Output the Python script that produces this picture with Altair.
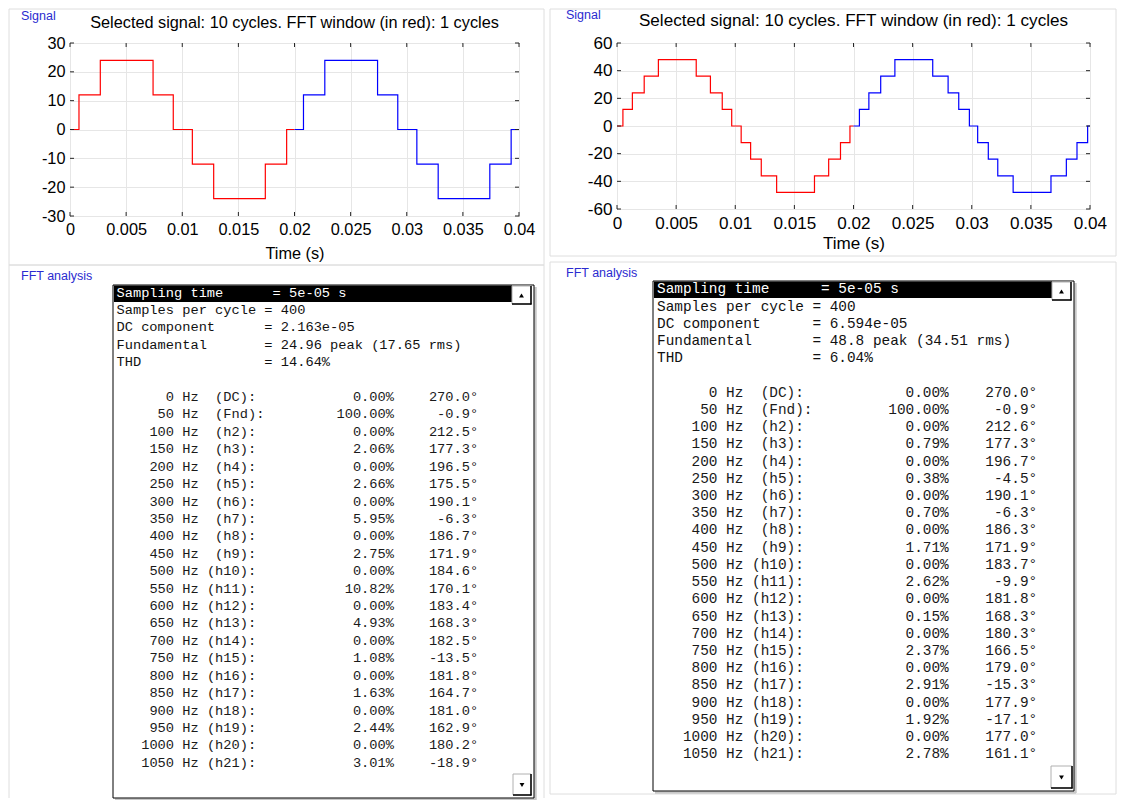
import altair as alt
import pandas as pd

# ------------------------------------------------------------------
# Data
# ------------------------------------------------------------------
window_end = 0.02          # FFT window (in red): first cycle
x_ticks = [0, 0.005, 0.01, 0.015, 0.02, 0.025, 0.03, 0.035, 0.04]

# left signal: 3-level staircase (breakpoints, step-after)
left_time = [0.0, 0.0008, 0.0027, 0.0074, 0.0092, 0.0109, 0.0128, 0.0174, 0.0193, 0.0200,
             0.0208, 0.0227, 0.0274, 0.0292, 0.0309, 0.0328, 0.0374, 0.0393, 0.0400]
left_level = [0, 12, 24, 12, 0, -12, -24, -12, 0, 0,
              12, 24, 12, 0, -12, -24, -12, 0, 0]
left_yticks = [-30, -20, -10, 0, 10, 20, 30]

# right signal: 5-level staircase
right_time = [0.0, 0.0005, 0.0013, 0.0023, 0.0035, 0.0067, 0.0079, 0.0089, 0.0097,
              0.0105, 0.0113, 0.0122, 0.0135, 0.0167, 0.0179, 0.0189, 0.0197, 0.0200,
              0.0205, 0.0213, 0.0223, 0.0235, 0.0267, 0.0280, 0.0289, 0.0298,
              0.0305, 0.0314, 0.0322, 0.0335, 0.0367, 0.0380, 0.0389, 0.0398, 0.0400]
right_level = [0, 12, 24, 36, 48, 36, 24, 12, 0,
               -12, -24, -36, -48, -36, -24, -12, 0, 0,
               12, 24, 36, 48, 36, 24, 12, 0,
               -12, -24, -36, -48, -36, -24, -12, 0, 0]
right_yticks = [-60, -40, -20, 0, 20, 40, 60]

signal_title = "Selected signal: 10 cycles. FFT window (in red): 1 cycles"

# FFT listing
left_header = ["Sampling time      = 5e-05 s",
               "Samples per cycle = 400",
               "DC component      = 2.163e-05",
               "Fundamental       = 24.96 peak (17.65 rms)",
               "THD               = 14.64%"]
right_header = ["Sampling time      = 5e-05 s",
                "Samples per cycle = 400",
                "DC component      = 6.594e-05",
                "Fundamental       = 48.8 peak (34.51 rms)",
                "THD               = 6.04%"]

freqs = [0, 50, 100, 150, 200, 250, 300, 350, 400, 450, 500,
         550, 600, 650, 700, 750, 800, 850, 900, 950, 1000, 1050]
harm_labels = ["(DC)", "(Fnd)", "(h2)", "(h3)", "(h4)", "(h5)", "(h6)", "(h7)", "(h8)",
               "(h9)", "(h10)", "(h11)", "(h12)", "(h13)", "(h14)", "(h15)", "(h16)",
               "(h17)", "(h18)", "(h19)", "(h20)", "(h21)"]
left_mag = [0.00, 100.00, 0.00, 2.06, 0.00, 2.66, 0.00, 5.95, 0.00, 2.75, 0.00,
            10.82, 0.00, 4.93, 0.00, 1.08, 0.00, 1.63, 0.00, 2.44, 0.00, 3.01]
left_phase = [270.0, -0.9, 212.5, 177.3, 196.5, 175.5, 190.1, -6.3, 186.7, 171.9, 184.6,
              170.1, 183.4, 168.3, 182.5, -13.5, 181.8, 164.7, 181.0, 162.9, 180.2, -18.9]
right_mag = [0.00, 100.00, 0.00, 0.79, 0.00, 0.38, 0.00, 0.70, 0.00, 1.71, 0.00,
             2.62, 0.00, 0.15, 0.00, 2.37, 0.00, 2.91, 0.00, 1.92, 0.00, 2.78]
right_phase = [270.0, -0.9, 212.6, 177.3, 196.7, -4.5, 190.1, -6.3, 186.3, 171.9, 183.7,
               -9.9, 181.8, 168.3, 180.3, 166.5, 179.0, -15.3, 177.9, -17.1, 177.0, 161.1]

# ------------------------------------------------------------------
# Styling
# ------------------------------------------------------------------
FONT = "Liberation Sans"
MONO = "Liberation Mono"
LABEL_BLUE = "#2b2bd0"
GRID = "#e6e6e6"
PANEL = "#dedede"
FRAME = "#262626"
NB = "\u00a0"

one = pd.DataFrame({"k": [0]})


def vrect(x1, x2, y1, y2, **kw):
    return alt.Chart(one).mark_rect(**kw).encode(
        x=alt.value(x1), x2=alt.value(x2), y=alt.value(y1), y2=alt.value(y2))


def vrule(x1, x2, y1, y2, **kw):
    return alt.Chart(one).mark_rule(**kw).encode(
        x=alt.value(x1), x2=alt.value(x2), y=alt.value(y1), y2=alt.value(y2))


def vtext(x, y, text, **kw):
    return alt.Chart(one).mark_text(text=text, **kw).encode(x=alt.value(x), y=alt.value(y))


def signal_chart(times, levels, yticks, w, h, fs, panel, sig_xy, title_y, title_pad):
    rows = []
    for t, v in zip(times, levels):
        if t <= window_end:
            rows.append({"t": t, "v": v, "part": "window"})
        if t >= window_end:
            rows.append({"t": t, "v": v, "part": "rest"})
    df = pd.DataFrame(rows)

    xenc = alt.X("t:Q", scale=alt.Scale(domain=[0, 0.04], nice=False, zero=False),
                 axis=alt.Axis(values=x_ticks, labelExpr="datum.value + ''",
                               title="Time (s)", titleFontSize=fs, titleFontWeight="normal",
                               titleColor="black", titlePadding=title_pad, titleFont=FONT,
                               labelFontSize=fs, labelColor="black", labelFont=FONT,
                               labelPadding=5, labelFlush=False, labelOverlap=False,
                               ticks=False, domain=False, grid=True, gridColor=GRID))
    yenc = alt.Y("v:Q", scale=alt.Scale(domain=[yticks[0], yticks[-1]], nice=False, zero=False),
                 axis=alt.Axis(values=yticks, labelExpr="datum.value + ''", title=None,
                               labelFontSize=fs, labelColor="black", labelFont=FONT,
                               labelPadding=5, labelFlush=False, labelOverlap=False,
                               ticks=False, domain=False, grid=True, gridColor=GRID))

    border = vrect(panel[0], panel[1], panel[2], panel[3],
                   fillOpacity=0, stroke=PANEL, strokeWidth=1)
    title = vtext(w / 2, title_y, signal_title, font=FONT, fontSize=fs,
                  color="black", align="center", baseline="middle")
    sig = vtext(sig_xy[0], sig_xy[1], "Signal", font=FONT, fontSize=12.5,
                color=LABEL_BLUE, align="left", baseline="middle")

    line = alt.Chart(df).mark_line(interpolate="step-after", strokeWidth=1.2).encode(
        x=xenc, y=yenc,
        color=alt.Color("part:N", scale=alt.Scale(domain=["window", "rest"],
                                                  range=["#ff0000", "#0000ff"]),
                        legend=None))

    xt = pd.DataFrame({"t": x_ticks})
    yt = pd.DataFrame({"v": yticks})
    tick_b = alt.Chart(xt).mark_rule(color=FRAME).encode(x=xenc, y=alt.value(h), y2=alt.value(h - 4))
    tick_t = alt.Chart(xt).mark_rule(color=FRAME).encode(x=xenc, y=alt.value(0), y2=alt.value(4))
    tick_l = alt.Chart(yt).mark_rule(color=FRAME).encode(y=yenc, x=alt.value(0), x2=alt.value(4))
    tick_r = alt.Chart(yt).mark_rule(color=FRAME).encode(y=yenc, x=alt.value(w), x2=alt.value(w - 4))

    return alt.layer(border, title, sig, line, tick_b, tick_t, tick_l, tick_r).properties(
        width=w, height=h, view=alt.ViewBackground(stroke=FRAME, strokeWidth=1))


def fft_chart(header, mags, phases, w, h, fs, text_x, row0, row_h,
              panel_parts, fft_xy, box, hl, up_btn, dn_btn):
    cw = 0.6 * fs   # monospace advance
    n_head = len(header)
    head_df = pd.DataFrame({
        "row": list(range(n_head)),
        "line": [s.replace(" ", NB) for s in header],
        "fg": ["#ffffff"] + ["#111111"] * (n_head - 1),
    })
    harm_df = pd.DataFrame({
        "row": [n_head + 1 + i for i in range(len(freqs))],
        "freq": [str(f) for f in freqs],
        "lab": [("Hz" + NB + (NB if (len(lab) == 4 or lab == "(Fnd)") else "") + lab + ":")
                for lab in harm_labels],
        "mag": [f"{m:.2f}%" for m in mags],
        "phase": [f"{p:.1f}°" for p in phases],
    })
    a = -row0 / row_h
    b = a + h / row_h
    yenc = alt.Y("row:Q", scale=alt.Scale(domain=[a, b], nice=False, zero=False, reverse=True),
                 axis=None)

    layers = []
    for pr in panel_parts:
        layers.append(vrule(*pr, color=PANEL, strokeWidth=1))
    layers.append(vtext(fft_xy[0], fft_xy[1], "FFT analysis", font=FONT, fontSize=12.5,
                        color=LABEL_BLUE, align="left", baseline="middle"))
    bx1, bx2, by1, by2 = box
    # list box with 3D frame
    layers.append(vrule(bx1 + 2, bx2 + 2, by2 + 1.5, by2 + 1.5, color="#c8c8c8", strokeWidth=2.5))
    layers.append(vrule(bx2 + 1.5, bx2 + 1.5, by1 + 2, by2 + 2, color="#c8c8c8", strokeWidth=2.5))
    layers.append(vrect(bx1, bx2, by1, by2, fill="white", stroke="#000000", strokeWidth=1))
    # selected (highlighted) first line
    layers.append(vrect(hl[0], hl[1], hl[2], hl[3], fill="#000000"))
    # scroll buttons
    for (x1, x2, y1, y2), shape in ((up_btn, "triangle-up"), (dn_btn, "triangle-down")):
        layers.append(vrect(x1, x2, y1, y2, fill="#ffffff", stroke="#b0b0b0", strokeWidth=1))
        layers.append(vrule(x2, x2, y1, y2 + 0.5, color="#000000", strokeWidth=1.5))
        layers.append(vrule(x1, x2 + 0.5, y2, y2, color="#000000", strokeWidth=1.5))
        layers.append(alt.Chart(one).mark_point(shape=shape, filled=True, color="#000000",
                                                size=24, opacity=1).encode(
            x=alt.value((x1 + x2) / 2), y=alt.value((y1 + y2) / 2 + 0.5)))

    txt = dict(baseline="middle", font=MONO, fontSize=fs, color="#1a1a1a")
    layers.append(alt.Chart(head_df).mark_text(align="left", baseline="middle", font=MONO,
                                               fontSize=fs).encode(
        x=alt.value(text_x), y=yenc, text="line:N", color=alt.Color("fg:N", scale=None)))
    layers.append(alt.Chart(harm_df).mark_text(align="right", **txt).encode(
        x=alt.value(text_x + 7 * cw), y=yenc, text="freq:N"))
    layers.append(alt.Chart(harm_df).mark_text(align="left", **txt).encode(
        x=alt.value(text_x + 8 * cw), y=yenc, text="lab:N"))
    layers.append(alt.Chart(harm_df).mark_text(align="right", **txt).encode(
        x=alt.value(text_x + 34 * cw - 2), y=yenc, text="mag:N"))
    layers.append(alt.Chart(harm_df).mark_text(align="right", **txt).encode(
        x=alt.value(text_x + 44 * cw), y=yenc, text="phase:N"))
    return alt.layer(*layers).properties(width=w, height=h)


# ------------------------------------------------------------------
# Panels (positions relative to each panel's plot origin)
# ------------------------------------------------------------------
sig_left = signal_chart(left_time, left_level, left_yticks, 449, 173, 16.3,
                        panel=(-61, 474, -34, 222), sig_xy=(-49, -27), title_y=-20, title_pad=8)
sig_right = signal_chart(right_time, right_level, right_yticks, 473, 166, 17.1,
                         panel=(-67, 499, -34, 213), sig_xy=(-51, -28), title_y=-22, title_pad=3)

fft_left = fft_chart(left_header, left_mag, left_phase, 464, 517, 13.7,
                     text_x=46.5, row0=11.5, row_h=17.42,
                     panel_parts=[(-61, 474, -16, -16), (-61, -61, -16, 517), (474, 474, -16, 517)],
                     fft_xy=(-49, -5), box=(43, 464, 4, 517), hl=(44, 442, 4.5, 21),
                     up_btn=(442, 461, 5, 23), dn_btn=(443, 461, 493, 514))
fft_right = fft_chart(right_header, right_mag, right_phase, 473, 510, 14.4,
                      text_x=40, row0=8.4, row_h=17.22,
                      panel_parts=[(-67, 499, -19, -19), (-67, -67, -19, 513),
                                   (499, 499, -19, 513), (-67, 499, 513, 513)],
                      fft_xy=(-51, -8), box=(36, 457, 0, 510), hl=(37, 435, 0.5, 17),
                      up_btn=(435, 454, 1, 19), dn_btn=(434, 455, 485, 507))

chart = alt.concat(
    sig_left, sig_right, fft_left, fft_right,
    columns=2, spacing={"row": 65, "column": 83}, bounds="flush", align="each",
).properties(padding=0).configure(font=FONT).configure_view(stroke="transparent")

chart.save("out.html", embed_options={"renderer": "svg", "actions": False})
